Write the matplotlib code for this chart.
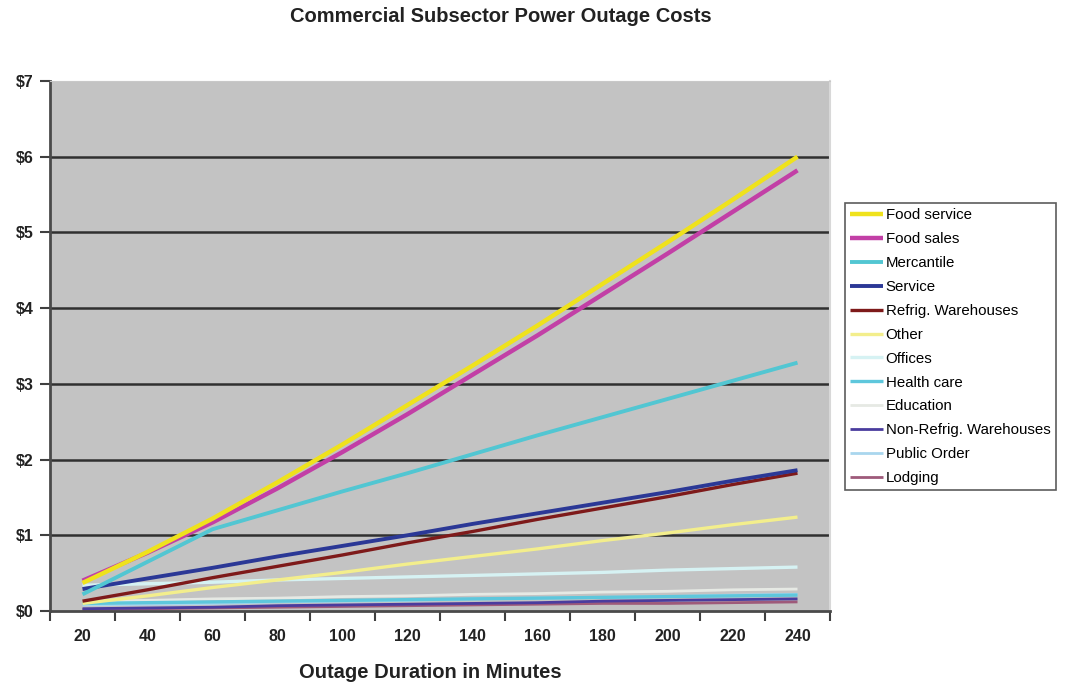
import numpy as np
import matplotlib
matplotlib.use("Agg")
import matplotlib.pyplot as plt
from matplotlib.ticker import FixedLocator, FuncFormatter

plt.rcParams['font.family'] = ['Liberation Sans', 'DejaVu Sans']

minutes = [20, 40, 60, 80, 100, 120, 140, 160, 180, 200, 220, 240]

# cost per kWh-equivalent, dollars, by subsector
food_service = [0.37, 0.78, 1.22, 1.70, 2.20, 2.72, 3.24, 3.77, 4.32, 4.87, 5.43, 6.00]
food_sales = [0.40, 0.77, 1.17, 1.62, 2.10, 2.60, 3.12, 3.64, 4.18, 4.72, 5.27, 5.82]
mercantile = [0.22, 0.65, 1.08, 1.33, 1.58, 1.82, 2.07, 2.32, 2.56, 2.80, 3.04, 3.28]
service = [0.29, 0.43, 0.57, 0.72, 0.86, 1.00, 1.15, 1.29, 1.43, 1.57, 1.72, 1.86]
refrig_wh = [0.13, 0.28, 0.44, 0.59, 0.74, 0.90, 1.05, 1.21, 1.36, 1.51, 1.67, 1.82]
other = [0.10, 0.20, 0.31, 0.41, 0.51, 0.62, 0.72, 0.82, 0.93, 1.03, 1.14, 1.24]
offices = [0.34, 0.36, 0.38, 0.41, 0.43, 0.45, 0.47, 0.49, 0.51, 0.54, 0.56, 0.58]
health_care = [0.10, 0.11, 0.12, 0.13, 0.14, 0.15, 0.16, 0.17, 0.18, 0.19, 0.20, 0.21]
education = [0.13, 0.14, 0.16, 0.17, 0.19, 0.20, 0.22, 0.23, 0.25, 0.26, 0.28, 0.29]
non_refrig_wh = [0.03, 0.04, 0.05, 0.07, 0.08, 0.09, 0.10, 0.11, 0.13, 0.14, 0.15, 0.16]
public_order = [0.08, 0.09, 0.10, 0.12, 0.13, 0.14, 0.16, 0.17, 0.18, 0.19, 0.21, 0.22]
lodging = [0.02, 0.03, 0.04, 0.05, 0.06, 0.07, 0.08, 0.09, 0.10, 0.10, 0.11, 0.12]

series = [
    ("Food service", food_service, '#efe21c', 3.2),
    ("Food sales", food_sales, '#c23fa6', 3.2),
    ("Mercantile", mercantile, '#52c6d2', 2.8),
    ("Service", service, '#2b3896', 2.8),
    ("Refrig. Warehouses", refrig_wh, '#7e1a1a', 2.4),
    ("Other", other, '#f3ee8c', 2.4),
    ("Offices", offices, '#d6f2f3', 2.4),
    ("Health care", health_care, '#5ec7dc', 2.4),
    ("Education", education, '#e6e9e4', 2.0),
    ("Non-Refrig. Warehouses", non_refrig_wh, '#4a3c9e', 2.0),
    ("Public Order", public_order, '#a9d6ee', 2.0),
    ("Lodging", lodging, '#9e5a7a', 2.0),
]

fig = plt.figure(figsize=(10.65, 6.85), dpi=100)
ax = fig.add_axes([50 / 1065, 74 / 685, 780 / 1065, 530 / 685])
ax.set_facecolor('#c3c3c3')

x = np.arange(len(minutes))
# draw back to front so the big ones sit on top
for name, vals, col, lw in reversed(series):
    ax.plot(x, vals, color=col, lw=lw, label=name, solid_capstyle='butt')

ax.set_xlim(-0.5, len(minutes) - 0.5)
ax.set_ylim(0, 7)

for v in range(1, 7):
    ax.axhline(v, color='#303030', lw=1.8, zorder=0.5)

ax.yaxis.set_major_locator(FixedLocator(range(0, 8)))
ax.yaxis.set_major_formatter(FuncFormatter(lambda v, p: "$%d" % v))
ax.xaxis.set_major_locator(FixedLocator(np.arange(-0.5, len(minutes), 1.0)))
ax.xaxis.set_major_formatter(FuncFormatter(lambda v, p: ""))
ax.xaxis.set_minor_locator(FixedLocator(x))
ax.set_xticklabels([str(m) for m in minutes], minor=True)

ax.tick_params(axis='x', which='major', length=7, width=1.5, color='#404040', direction='out')
ax.tick_params(axis='x', which='minor', length=0, pad=13, labelsize=11.5)
ax.tick_params(axis='y', length=7, width=1.5, color='#404040', labelsize=11.5, pad=5)
for lab in ax.get_xticklabels(minor=True) + ax.get_yticklabels():
    lab.set_fontweight('bold')
    lab.set_color('#222222')

for s in ['left', 'bottom']:
    ax.spines[s].set_color('#4a4a4a')
    ax.spines[s].set_linewidth(2)
ax.spines['top'].set_color('#c8c8c8')
ax.spines['right'].set_color('#d8d8d8')
ax.spines['right'].set_linewidth(1.5)

fig.text(501 / 1065, 1 - 17 / 685, "Commercial Subsector Power Outage Costs",
         ha='center', va='center', fontsize=14.5, fontweight='bold', color='#222222')
fig.text(430 / 1065, 1 - 673 / 685, "Outage Duration in Minutes",
         ha='center', va='center', fontsize=14.5, fontweight='bold', color='#222222')

handles, labels = ax.get_legend_handles_labels()
leg = fig.legend(handles[::-1], labels[::-1], loc='upper left',
                 bbox_to_anchor=(845 / 1065, 1 - 203 / 685), fontsize=10.8,
                 frameon=True, fancybox=False, edgecolor='#333333',
                 handlelength=2.2, handletextpad=0.15, labelspacing=0.66,
                 borderpad=0.35, borderaxespad=0)
leg.get_frame().set_linewidth(1.2)

fig.savefig("out.png", dpi=100, facecolor='white')
